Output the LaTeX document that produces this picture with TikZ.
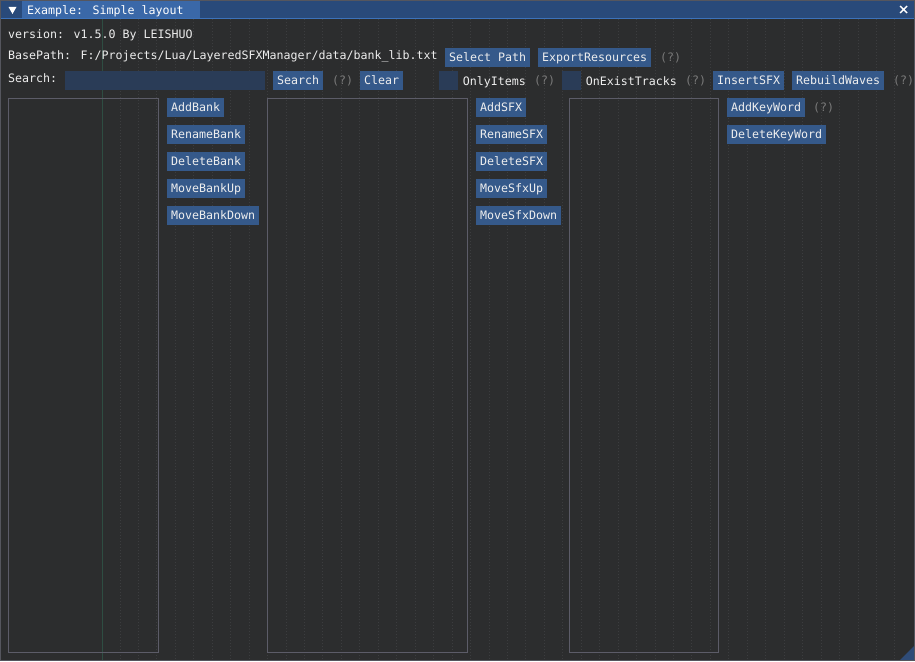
\documentclass[tikz,border=0pt]{standalone}
\usepackage{fontspec}
\newfontfamily\monof{DejaVu Sans Mono}
\definecolor{bgc}{HTML}{2C2D2E}
\definecolor{titc}{HTML}{294A7A}
\definecolor{tabc}{HTML}{3A68A8}
\definecolor{sepc}{HTML}{3C72BA}
\definecolor{tabtop}{HTML}{4A82CC}
\definecolor{btnc}{HTML}{35598A}
\definecolor{framec}{HTML}{2A3C57}
\definecolor{panelc}{HTML}{5C5C68}
\definecolor{helpc}{HTML}{7A7A7A}
\definecolor{txt}{HTML}{EEEEEE}
\definecolor{greenc}{HTML}{2E4D42}
\definecolor{gridc}{HTML}{3C3D3F}
\definecolor{winb}{HTML}{55565E}
\definecolor{gripc}{HTML}{2F4C78}
\begin{document}
\begin{tikzpicture}[x=1pt,y=-1pt,
  every node/.style={font=\monof\fontsize{11.63}{13}\selectfont, text=txt, inner sep=0pt, text height=8.5pt, text depth=0pt},
  btn/.style={fill=btnc, minimum height=18.5pt, inner xsep=4pt, anchor=north west},
  lbl/.style={anchor=west},
  help/.style={anchor=west, text=helpc},
  framebox/.style={fill=framec},
  panel/.style={draw=panelc, line width=1pt},
  gridl/.style={draw=gridc, line width=1pt, dash pattern=on 1pt off 2pt}]
\useasboundingbox (0,0) rectangle (915,661);
\fill[bgc] (0,0) rectangle (915,661);
% background grid
\foreach \i in {0,...,42}
  \draw[gridl] ({120+18.45*\i},19) -- ({120+18.45*\i},659);
\draw[greenc, line width=1pt] (102,19) -- (102,660);
% title bar
\fill[titc] (0,0) rectangle (915,18);
\fill[tabc] (22,0) rectangle (200,18);
\draw[tabtop, line width=1pt] (22,0.6) -- (200,0.6);
\fill[sepc] (0,18) rectangle (915,19.5);
\fill[white] (8.5,7) -- (16.5,7) -- (12.5,14) -- cycle;
\node[lbl, text=white] (title) at (27,10) {Example: Simple layout};
\draw[white, line width=1.4pt] (900,6) -- (907,13) (900,13) -- (907,6);
% row 1
\node[lbl] (ver) at (8,34.5) {version: v1.5.0 By LEISHUO};
% row 2
\node[lbl] (base) at (8,55) {BasePath: F:/Projects/Lua/LayeredSFXManager/data/bank\_lib.txt};
\node[btn] (selpath) at (445,48.3) {Select Path};
\node[btn] (export) at (538,48.3) {ExportResources};
\node[help] (h1) at (660,57.5) {(?)};
% row 3
\node[lbl] (slab) at (8,78.3) {Search:};
\node[framebox, anchor=north west, minimum width=200pt, minimum height=18.5pt] (sinput) at (65,71) {};
\node[btn] (sbtn) at (273,71) {Search};
\node[help] (h2) at (332,80.3) {(?)};
\node[btn] (clear) at (360,71) {Clear};
\node[framebox, anchor=north west, minimum width=18.5pt, minimum height=18.5pt] (cb1) at (439,71) {};
\node[lbl] (only) at (462.7,80.8) {OnlyItems};
\node[help] (h3) at (534,80.3) {(?)};
\node[framebox, anchor=north west, minimum width=18.5pt, minimum height=18.5pt] (cb2) at (562,71) {};
\node[lbl] (onex) at (585.7,80.8) {OnExistTracks};
\node[help] (h4) at (685,80.3) {(?)};
\node[btn] (insert) at (713,71) {InsertSFX};
\node[btn] (rebuild) at (792,71) {RebuildWaves};
\node[help] (h5) at (893,80.3) {(?)};
% panels
\draw[panel] (8.5,98.5) rectangle (158.5,652.5);
\draw[panel] (267.5,98.5) rectangle (467.5,652.5);
\draw[panel] (569.5,98.5) rectangle (718.5,652.5);
% column 1 buttons
\node[btn] (addbank) at (167,98) {AddBank};
\node[btn] (renbank) at (167,125) {RenameBank};
\node[btn] (delbank) at (167,152) {DeleteBank};
\node[btn] (upbank) at (167,179) {MoveBankUp};
\node[btn] (downbank) at (167,206) {MoveBankDown};
% column 2 buttons
\node[btn] (addsfx) at (476,98) {AddSFX};
\node[btn] (rensfx) at (476,125) {RenameSFX};
\node[btn] (delsfx) at (476,152) {DeleteSFX};
\node[btn] (upsfx) at (476,179) {MoveSfxUp};
\node[btn] (downsfx) at (476,206) {MoveSfxDown};
% column 3 buttons
\node[btn] (addkw) at (727,98) {AddKeyWord};
\node[help] (h6) at (813,107.3) {(?)};
\node[btn] (delkw) at (727,125) {DeleteKeyWord};
% window border and grip
\fill[gripc] (914,646) -- (914,660) -- (900,660) -- cycle;
\draw[winb, line width=1pt] (0.5,0.5) rectangle (914.5,660.5);
\end{tikzpicture}
\end{document}
